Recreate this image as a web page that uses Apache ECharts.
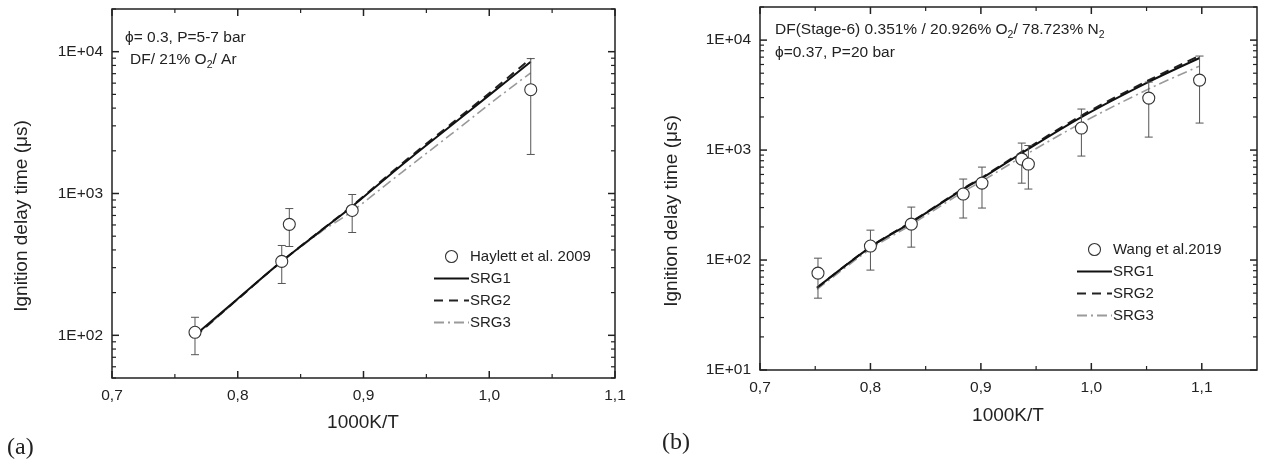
<!DOCTYPE html>
<html>
<head>
<meta charset="utf-8">
<script src="https://cdn.jsdelivr.net/npm/echarts@6/dist/echarts.min.js"></script>
<style>html,body{margin:0;padding:0;background:#fff;}#c{width:1264px;height:461px;}</style>
</head>
<body>
<div id="c"></div>
<script>
// ---------- data ----------
// Panel (a)
const A_EXP_X    = [0.766, 0.835, 0.841, 0.891, 1.033];
const A_EXP_Y    = [105, 332, 606, 759, 5395];
const A_EXP_LOW  = [73, 232, 423, 531, 1885];
const A_EXP_HIGH = [134, 430, 783, 984, 8940];
const A_MODEL_X  = [0.766, 0.80, 0.834, 0.866, 0.890, 0.930, 0.97, 1.0, 1.033];
const A_SRG1     = [100, 181, 327, 545, 796, 1575, 3030, 4940, 8490];
const A_SRG2     = [98, 180, 327, 548, 805, 1610, 3110, 5100, 8950];
const A_SRG3     = [98, 179, 325, 535, 740, 1400, 2630, 4260, 7100];
// Panel (b)
const B_EXP_X    = [0.7525, 0.800, 0.837, 0.884, 0.901, 0.937, 0.943, 0.991, 1.052, 1.098];
const B_EXP_Y    = [76, 134, 212, 398, 501, 828, 746, 1585, 2970, 4330];
const B_EXP_LOW  = [45, 81, 131, 241, 297, 500, 442, 882, 1312, 1760];
const B_EXP_HIGH = [104, 187, 303, 545, 700, 1158, 1100, 2360, 4150, 7160];
const B_MODEL_X  = [0.7516, 0.80, 0.836, 0.884, 0.901, 0.937, 0.991, 1.052, 1.098];
const B_SRG1     = [56, 131, 217, 442, 556, 940, 1995, 4170, 6870];
const B_SRG2     = [56, 132, 219, 447, 563, 962, 2060, 4320, 7200];
const B_SRG3     = [54, 126, 207, 418, 522, 865, 1760, 3600, 5800];

// axes / ticks
const X_MAJOR = [0.7, 0.8, 0.9, 1.0, 1.1];
const X_LABELS = ['0,7', '0,8', '0,9', '1,0', '1,1'];
const X_MINOR = [0.75, 0.85, 0.95, 1.05];
const Y_DECADES = [10, 100, 1000, 10000];
const Y_LABELS = ['1E+01', '1E+02', '1E+03', '1E+04'];
const Y_MULTS = [1, 2, 3, 4, 5, 6, 7, 8, 9];
const A_RANGE = {xmin: 0.7, xmax: 1.1, ymin: 50, ymax: 20000};
const B_RANGE = {xmin: 0.7, xmax: 1.15, ymin: 10, ymax: 20000};

const LEG_A = ['Haylett et al. 2009', 'SRG1', 'SRG2', 'SRG3'];
const LEG_B = ['Wang et al.2019', 'SRG1', 'SRG2', 'SRG3'];

// ---------- helpers ----------
const FONT = '"Liberation Sans", Arial, sans-serif';
const INK = '#222';
function zip(xs, ...cols) { return xs.map((x, i) => [x].concat(cols.map(c => c[i]))); }
function yTicks(r) {
  const out = [];
  for (const d of [1, 10, 100, 1000, 10000]) for (const m of Y_MULTS) {
    const v = d * m;
    if (v >= r.ymin - 1e-9 && v <= r.ymax + 1e-9) out.push([r.xmin, v, m === 1 ? 1 : 0]);
  }
  return out;
}
function xTicks(r) {
  return X_MAJOR.filter(v => v <= r.xmax + 1e-9).map(v => [v, r.ymin, 1])
    .concat(X_MINOR.filter(v => v <= r.xmax + 1e-9).map(v => [v, r.ymin, 0]));
}
function xFmt(v) {
  const i = X_MAJOR.findIndex(t => Math.abs(t - v) < 1e-6);
  return i < 0 ? '' : X_LABELS[i];
}
function yFmt(v) {
  const i = Y_DECADES.findIndex(t => Math.abs(t - v) / t < 1e-6);
  return i < 0 ? '' : Y_LABELS[i];
}
function yTickRender(params, api) {
  const cs = params.coordSys;
  const p = api.coord([api.value(0), api.value(1)]);
  const len = api.value(2) ? 7 : 4;
  const w = api.value(2) ? 1.5 : 1.2;
  const st = {stroke: INK, lineWidth: w};
  return {type: 'group', children: [
    {type: 'line', shape: {x1: cs.x, y1: p[1], x2: cs.x + len, y2: p[1]}, style: st},
    {type: 'line', shape: {x1: cs.x + cs.width - len, y1: p[1], x2: cs.x + cs.width, y2: p[1]}, style: st}
  ]};
}
function xTickRender(params, api) {
  const cs = params.coordSys;
  const p = api.coord([api.value(0), api.value(1)]);
  const len = api.value(2) ? 7 : 4;
  const w = api.value(2) ? 1.5 : 1.2;
  const st = {stroke: INK, lineWidth: w};
  return {type: 'group', children: [
    {type: 'line', shape: {x1: p[0], y1: cs.y + cs.height, x2: p[0], y2: cs.y + cs.height - len}, style: st},
    {type: 'line', shape: {x1: p[0], y1: cs.y, x2: p[0], y2: cs.y + len}, style: st}
  ]};
}
function errRender(params, api) {
  const x = api.value(0);
  const lo = api.coord([x, api.value(1)]);
  const hi = api.coord([x, api.value(2)]);
  const st = {stroke: '#555', lineWidth: 1};
  const c = 4;
  return {type: 'group', children: [
    {type: 'line', shape: {x1: lo[0], y1: lo[1], x2: hi[0], y2: hi[1]}, style: st},
    {type: 'line', shape: {x1: lo[0] - c, y1: lo[1], x2: lo[0] + c, y2: lo[1]}, style: st},
    {type: 'line', shape: {x1: hi[0] - c, y1: hi[1], x2: hi[0] + c, y2: hi[1]}, style: st}
  ]};
}

function panelAxes(gi, r) {
  const xa = {
    gridIndex: gi, type: 'value', min: r.xmin, max: r.xmax, interval: 0.1,
    axisLine: {show: false}, axisTick: {show: false}, splitLine: {show: false},
    axisLabel: {formatter: xFmt, fontSize: 15.5, color: INK, fontFamily: FONT, margin: 10}
  };
  const ya = {
    gridIndex: gi, type: 'log', logBase: 10, min: r.ymin, max: r.ymax,
    axisLine: {show: false}, axisTick: {show: false}, splitLine: {show: false},
    axisLabel: {formatter: yFmt, fontSize: 15.5, color: INK, fontFamily: FONT, margin: 9}
  };
  return [xa, ya];
}
const [xa0, ya0] = panelAxes(0, A_RANGE);
const [xa1, ya1] = panelAxes(1, B_RANGE);

function panelSeries(gi, r, expName, ex, ey, elo, ehi, mx, s1, s2, s3) {
  return [
    {type: 'custom', xAxisIndex: gi, yAxisIndex: gi, silent: true, renderItem: yTickRender,
      data: yTicks(r), encode: {x: 0, y: 1}, z: 5},
    {type: 'custom', xAxisIndex: gi, yAxisIndex: gi, silent: true, renderItem: xTickRender,
      data: xTicks(r), encode: {x: 0, y: 1}, z: 5},
    {name: 'SRG3', type: 'line', xAxisIndex: gi, yAxisIndex: gi, data: zip(mx, s3), symbol: 'none',
      smooth: 0.3, lineStyle: {color: '#9a9a9a', width: 1.6, type: [10, 4, 2, 4]}, itemStyle: {color: '#9a9a9a'}, z: 3},
    {name: 'SRG2', type: 'line', xAxisIndex: gi, yAxisIndex: gi, data: zip(mx, s2), symbol: 'none',
      smooth: 0.3, lineStyle: {color: '#222', width: 2, type: [9, 6]}, itemStyle: {color: '#222'}, z: 3},
    {name: 'SRG1', type: 'line', xAxisIndex: gi, yAxisIndex: gi, data: zip(mx, s1), symbol: 'none',
      smooth: 0.3, lineStyle: {color: '#111', width: 2}, itemStyle: {color: '#111'}, z: 4},
    {type: 'custom', xAxisIndex: gi, yAxisIndex: gi, silent: true, renderItem: errRender,
      data: zip(ex, elo, ehi), encode: {x: 0, y: [1, 2]}, z: 6},
    {name: expName, type: 'scatter', xAxisIndex: gi, yAxisIndex: gi, data: zip(ex, ey),
      symbol: 'circle', symbolSize: 12,
      itemStyle: {color: '#fff', borderColor: '#333', borderWidth: 1.1, opacity: 1}, z: 7}
  ];
}

function legend(left, top, names) {
  const data = names.map((n, i) => i === 0
    ? {name: n, icon: 'circle', itemStyle: {color: '#fff', borderColor: '#333', borderWidth: 1.1}}
    : {name: n, itemStyle: {opacity: 0}});
  return {
    orient: 'vertical', left: left, top: top, itemWidth: 35, itemHeight: 12, itemGap: 7,
    selectedMode: false, data: data,
    textStyle: {fontSize: 15, color: INK, fontFamily: FONT, padding: [0, 0, 0, -4]}
  };
}

function txt(x, y, text, size, extra) {
  return Object.assign({type: 'text', x: x, y: y, silent: true,
    style: Object.assign({text: text, fontSize: size, fontFamily: FONT, fill: INK,
      align: 'left', verticalAlign: 'middle'}, extra || {})});
}
function richTxt(x, y, text) {
  return {type: 'text', x: x, y: y, silent: true, style: {
    text: text, align: 'left', verticalAlign: 'middle',
    rich: {
      n: {fontSize: 15.5, fontFamily: FONT, fill: INK, lineHeight: 22, verticalAlign: 'middle'},
      s: {fontSize: 10.5, fontFamily: FONT, fill: INK, lineHeight: 22, verticalAlign: 'bottom'}
    }
  }};
}
function rotTxt(x, y, text, size) {
  return {type: 'text', x: x, y: y, rotation: Math.PI / 2, silent: true,
    style: {text: text, fontSize: size, fontFamily: FONT, fill: INK, align: 'center', verticalAlign: 'middle'}};
}

const option = {
  backgroundColor: '#fff',
  animation: false,
  grid: [
    {left: 112, top: 9, width: 503, height: 369, show: true, borderColor: INK, borderWidth: 1.5,
      backgroundColor: 'transparent', containLabel: false, outerBoundsMode: 'none'},
    {left: 760, top: 7, width: 497, height: 363, show: true, borderColor: INK, borderWidth: 1.5,
      backgroundColor: 'transparent', containLabel: false, outerBoundsMode: 'none'}
  ],
  xAxis: [xa0, xa1],
  yAxis: [ya0, ya1],
  legend: [legend(428, 244, LEG_A), legend(1071, 237, LEG_B)],
  series: panelSeries(0, A_RANGE, 'Haylett et al. 2009', A_EXP_X, A_EXP_Y, A_EXP_LOW, A_EXP_HIGH,
                      A_MODEL_X, A_SRG1, A_SRG2, A_SRG3)
    .concat(panelSeries(1, B_RANGE, 'Wang et al.2019', B_EXP_X, B_EXP_Y, B_EXP_LOW, B_EXP_HIGH,
                        B_MODEL_X, B_SRG1, B_SRG2, B_SRG3)),
  graphic: [
    rotTxt(22, 216, 'Ignition delay time (μs)', 19),
    rotTxt(672, 211, 'Ignition delay time (μs)', 19),
    txt(363, 423, '1000K/T', 19, {align: 'center'}),
    txt(1008, 416, '1000K/T', 19, {align: 'center'}),
    txt(125, 38, 'ϕ= 0.3, P=5-7 bar', 15.5),
    richTxt(130, 60, '{n|DF/ 21% O}{s|2}{n|/ Ar}'),
    richTxt(775, 30, '{n|DF(Stage-6) 0.351% / 20.926% O}{s|2}{n|/ 78.723% N}{s|2}'),
    txt(775, 53, 'ϕ=0.37, P=20 bar', 15.5),
    txt(7, 448, '(a)', 24, {fontFamily: '"Liberation Serif", "Times New Roman", serif'}),
    txt(662, 443, '(b)', 24, {fontFamily: '"Liberation Serif", "Times New Roman", serif'})
  ]
};

const chart = echarts.init(document.getElementById('c'), null, {renderer: 'canvas'});
chart.setOption(option);
</script>
</body>
</html>
